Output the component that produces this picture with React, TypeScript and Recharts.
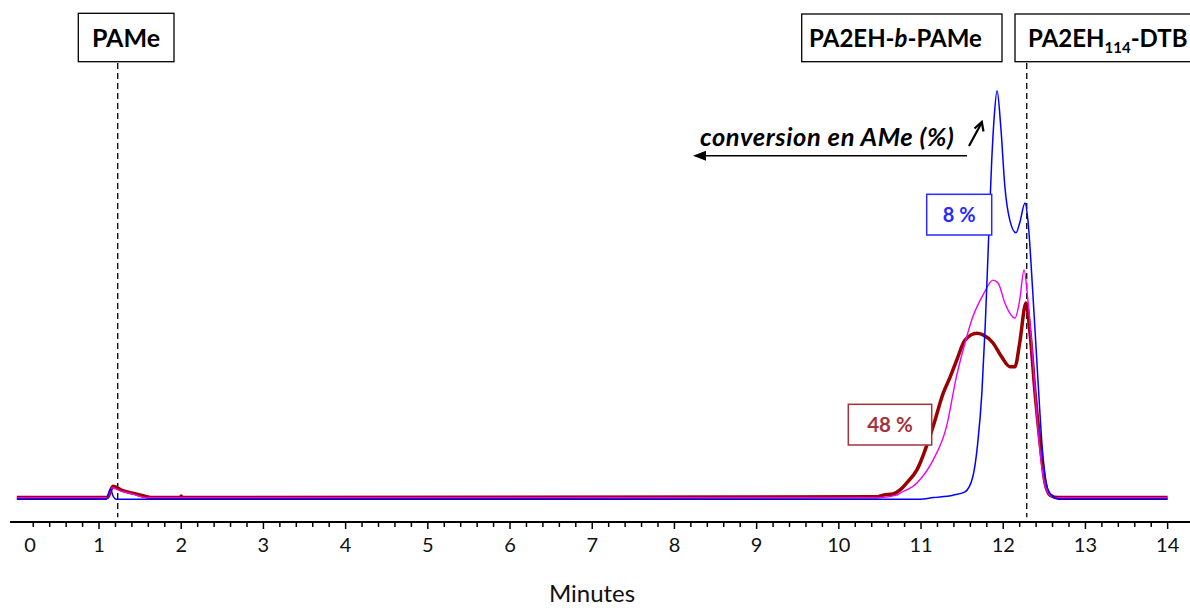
import React from 'react';
import { LineChart, Line, XAxis, YAxis, ReferenceLine } from 'recharts';

// Elution time (minutes) and detector response (relative units, tallest peak = 100)
const timesBlue = [0, 1.09, 1.14, 1.17, 1.21, 10.99, 11.15, 11.39, 11.535, 11.63, 11.69, 11.74, 11.78, 11.82, 11.86, 11.89, 11.925, 11.97, 12.02, 12.08, 12.155, 12.2, 12.265, 12.3, 12.36, 12.42, 12.48, 12.545, 12.63, 12.69, 14];
const valuesBlue = [-0.3, -0.3, 2.2, 0.5, -0.3, -0.3, 0.1, 0.7, 1.5, 5.2, 13.5, 25.7, 41.9, 62.5, 82.8, 93.4, 99.8, 91, 76.3, 68.1, 65, 67.4, 72.3, 68.1, 50.2, 29.7, 11, 2, 0, -0.3, -0.3];

const timesMagenta = [0, 1.1, 1.16, 1.25, 1.4, 1.58, 10.5, 10.7, 10.745, 10.95, 11.146, 11.31, 11.43, 11.535, 11.63, 11.755, 11.876, 11.937, 12.02, 12.08, 12.143, 12.2, 12.253, 12.3, 12.36, 12.42, 12.48, 12.545, 12.63, 14];
const valuesMagenta = [0.1, 0.1, 2.5, 1.8, 1.0, 0.1, 0.1, 0.7, 1.2, 3.7, 9.3, 17.5, 29.7, 38, 44.4, 49.8, 53.4, 52.7, 47.8, 45.3, 44.1, 48.5, 55.9, 48.5, 33.8, 17.4, 6.1, 1.2, 0.1, 0.1];

const timesRed = [0, 1.1, 1.17, 1.29, 1.45, 1.58, 1.65, 1.99, 2.0, 2.01, 10.465, 10.54, 10.66, 10.745, 10.826, 10.95, 11.146, 11.27, 11.355, 11.434, 11.535, 11.677, 11.754, 11.876, 11.98, 12.08, 12.143, 12.2, 12.277, 12.326, 12.387, 12.448, 12.509, 12.57, 12.67, 14];
const valuesRed = [0.1, 0.1, 2.9, 1.8, 1.0, 0.3, 0.1, 0.1, 0.5, 0.1, 0.3, 0.7, 1.0, 2.0, 3.7, 6.9, 17.5, 25.7, 29.7, 33.8, 38.7, 40.4, 40, 38, 34.6, 32.2, 32.2, 38, 47.8, 40.4, 25.7, 13.5, 3.7, 0.7, 0.1, 0.1];

const majorTicks = [0, 1, 2, 3, 4, 5, 6, 7, 8, 9, 10, 11, 12, 13, 14];
const minorPerMajor = 5;
const markerTimes = [1.2275, 12.286];

const toSeries = (ts: number[], vs: number[]) => ts.map((t, i) => ({ t, v: vs[i] }));
const blueData = toSeries(timesBlue, valuesBlue);
const magentaData = toSeries(timesMagenta, valuesMagenta);
const redData = toSeries(timesRed, valuesRed);

const tickValues: number[] = [];
majorTicks.forEach((m, i) => {
  if (i === 0) return;
  for (let k = 1; k <= minorPerMajor; k++) {
    tickValues.push(+(majorTicks[i - 1] + (k * (m - majorTicks[i - 1])) / minorPerMajor).toFixed(3));
  }
});

const FONT = 'Lato, "Open Sans", sans-serif';

const Tick = (props: any) => {
  const { x, y, payload } = props;
  const v = payload.value;
  const major = Math.abs(v - Math.round(v)) < 1e-6;
  return (
    <g>
      <line x1={x} x2={x} y1={y} y2={y + (major ? 7 : 5)} stroke="#000" strokeWidth={1.5} />
      {major && (
        <text x={x} y={y + 30} textAnchor="middle" fontSize={20} fontFamily={FONT} fill="#111">
          {v}
        </text>
      )}
      {Math.abs(v - 1) < 1e-6 && (
        <text x={x - 69} y={y + 30} textAnchor="middle" fontSize={20} fontFamily={FONT} fill="#111">
          {majorTicks[0]}
        </text>
      )}
    </g>
  );
};

export default function App() {
  return (
    <div style={{ position: 'fixed', left: 0, top: 0, width: 1190, height: 608, background: '#fff' }}>
      <div style={{ position: 'absolute', left: 0, top: 0 }}>
        <LineChart width={1190} height={608} margin={{ top: 8, right: 0, left: 10, bottom: 0 }}>
          <XAxis
            type="number"
            dataKey="t"
            domain={[-0.083, 14.272]}
            allowDataOverflow
            ticks={tickValues}
            interval={0}
            tick={<Tick />}
            tickLine={false}
            tickSize={0}
            tickMargin={0}
            axisLine={{ stroke: '#000', strokeWidth: 2 }}
            height={86}
          />
          <YAxis hide type="number" domain={[-5.88, 120.1]} allowDataOverflow />
          {markerTimes.map((m) => (
            <ReferenceLine
              key={m}
              segment={[{ x: m, y: 106.6 }, { x: m, y: -4.7 }]}
              stroke="#000"
              strokeWidth={1.3}
              strokeDasharray="6 4"
            />
          ))}
          <Line data={redData} dataKey="v" type="monotone" stroke="#990000" strokeWidth={3.5} dot={false} isAnimationActive={false} />
          <Line data={magentaData} dataKey="v" type="monotone" stroke="#f000f0" strokeWidth={1.4} dot={false} isAnimationActive={false} />
          <Line data={blueData} dataKey="v" type="monotone" stroke="#0000ff" strokeWidth={1.5} dot={false} isAnimationActive={false} />
        </LineChart>
      </div>
      <svg width={1190} height={608} style={{ position: 'absolute', left: 0, top: 0, pointerEvents: 'none' }}>
        <rect x={78.3} y={13.3} width={95.7} height={48.4} fill="#fff" stroke="#000" strokeWidth={1.3} />
        <text x={126} y={47} textAnchor="middle" fontSize={25} fontWeight="bold" fontFamily={FONT} fill="#000">PAMe</text>

        <rect x={801.7} y={14} width={200.3} height={47.7} fill="#fff" stroke="#000" strokeWidth={1.3} />
        <text x={895.5} y={47} textAnchor="middle" fontSize={24} fontWeight="bold" fontFamily={FONT} fill="#000">
          PA2EH-<tspan fontStyle="italic">b</tspan>-PAMe
        </text>

        <rect x={1015} y={14} width={190} height={47.7} fill="#fff" stroke="#000" strokeWidth={1.3} />
        <text x={1028} y={47} fontSize={24} fontWeight="bold" fontFamily={FONT} fill="#000">
          PA2EH<tspan fontSize={15} dy={6}>114</tspan><tspan dy={-6}>-DTB</tspan>
        </text>

        <text x={700} y={146} fontSize={25.5} fontWeight="bold" fontStyle="italic" letterSpacing={0.6} fontFamily={FONT} fill="#000">
          conversion en AMe (%)
        </text>
        <line x1={704} y1={155.7} x2={967} y2={155.7} stroke="#000" strokeWidth={1.5} />
        <polygon points="693,155.7 706,150.7 706,160.7" fill="#000" />
        <line x1={969} y1={146} x2={981.5} y2={123} stroke="#000" strokeWidth={2.2} />
        <polyline points="974.5,128.5 981.8,122 983.5,131.5" fill="none" stroke="#000" strokeWidth={2.2} />

        <rect x={926.7} y={194.3} width={65} height={40.7} fill="#fff" stroke="#2a2aff" strokeWidth={1.5} />
        <text x={959.2} y={221.7} textAnchor="middle" fontSize={20} fontWeight="bold" fontFamily={FONT} fill="#2a2aff">8 %</text>

        <rect x={848.3} y={404.3} width={83.4} height={40.7} fill="#fff" stroke="#a3333d" strokeWidth={1.5} />
        <text x={890} y={432.3} textAnchor="middle" fontSize={20.5} fontWeight="bold" fontFamily={FONT} fill="#a3333d">48 %</text>

        <text x={592} y={602} textAnchor="middle" fontSize={24} fontFamily={FONT} fill="#111">Minutes</text>
      </svg>
    </div>
  );
}
